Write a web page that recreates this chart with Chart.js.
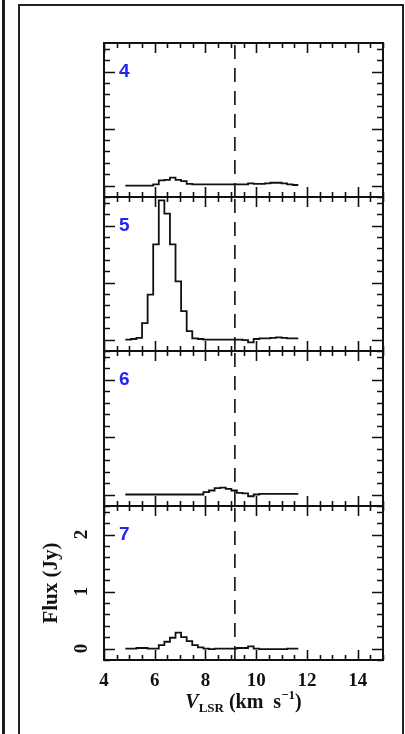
<!DOCTYPE html>
<html>
<head>
<meta charset="utf-8">
<script src="https://cdn.jsdelivr.net/npm/chart.js@4/dist/chart.umd.min.js"></script>
<style>
  html, body { margin: 0; padding: 0; background: #fff; }
  #page { position: relative; width: 405px; height: 734px; overflow: hidden; background: #fff; }
  #page canvas { position: absolute; left: 0; top: 0; }
  .rule { position: absolute; left: 2px; top: 0; width: 3px; height: 734px; background: #1c1c1c; }
  .frame { position: absolute; left: 18px; top: 4px; width: 386px; height: 770px; border: 2px solid #222; box-sizing: border-box; }
</style>
</head>
<body>
<div id="page">
  <div class="rule"></div>
  <div class="frame"></div>
  <canvas id="p4" width="405" height="734"></canvas>
  <canvas id="p5" width="405" height="734"></canvas>
  <canvas id="p6" width="405" height="734"></canvas>
  <canvas id="p7" width="405" height="734"></canvas>
</div>
<script>
// Channel centre velocities (km/s), shared by all epochs
const velocity = [4.95, 5.17, 5.39, 5.61, 5.83, 6.05, 6.27, 6.49, 6.71, 6.93, 7.15,
                  7.37, 7.59, 7.81, 8.03, 8.25, 8.47, 8.69, 8.91, 9.13, 9.35, 9.57,
                  9.79, 10.01, 10.23, 10.45, 10.67, 10.89, 11.11, 11.33, 11.55];

// Flux density (Jy) per channel, one array per epoch
const flux4 = [0.00, 0.00, 0.00, 0.00, 0.00, 0.02, 0.09, 0.10, 0.14, 0.10, 0.08,
               0.03, 0.02, 0.02, 0.02, 0.02, 0.02, 0.02, 0.02, 0.02, 0.02, 0.02,
               0.04, 0.03, 0.03, 0.04, 0.05, 0.05, 0.04, 0.02, 0.01];
const flux5 = [0.00, 0.01, 0.03, 0.29, 0.79, 1.67, 2.44, 2.21, 1.67, 1.02, 0.50,
               0.15, 0.02, 0.01, 0.00, 0.00, 0.00, 0.00, 0.00, 0.00, 0.00, -0.01,
               -0.05, 0.01, 0.02, 0.02, 0.03, 0.04, 0.03, 0.02, 0.02];
const flux6 = [0.00, 0.00, 0.00, 0.00, 0.00, 0.00, 0.00, 0.00, 0.00, 0.00, 0.00,
               0.00, 0.00, 0.00, 0.04, 0.07, 0.11, 0.12, 0.10, 0.07, 0.03, 0.02,
               -0.03, 0.00, 0.01, 0.01, 0.01, 0.01, 0.01, 0.01, 0.01];
const flux7 = [0.00, 0.00, 0.01, 0.01, 0.00, 0.00, 0.06, 0.12, 0.19, 0.28, 0.20,
               0.13, 0.06, 0.02, 0.00, -0.01, 0.00, 0.00, 0.00, 0.00, 0.01, 0.01,
               0.04, 0.00, -0.01, -0.01, -0.01, -0.01, -0.01, 0.00, 0.00];

const panelLabels = ['4', '5', '6', '7'];
const xTickValues = [4, 6, 8, 10, 12, 14];
const yTickValues = [0, 1, 2];
const systemicVelocity = 9.16;

// Axis ranges and tick spacing
const X_MIN = 4, X_MAX = 15, X_MINOR = 0.5, X_MAJOR = 2;
const Y_MIN = -0.2, Y_MAX = 2.5, Y_MINOR = 0.2, Y_MAJOR = 1;

// Vertical placement of each stacked panel (pixels)
const panelEdges = [43, 197, 351, 506, 660];
const PLOT_LEFT = 104, PLOT_RIGHT = 383, W = 405, H = 734;

const SERIF = '"Liberation Serif", "Times New Roman", serif';
const INK = '#111';

// Histogram-style points: extend the first and last channel to their outer edges
function stepPoints(vel, flux) {
  const halfFirst = (vel[1] - vel[0]) / 2;
  const halfLast = (vel[vel.length - 1] - vel[vel.length - 2]) / 2;
  const pts = [{ x: vel[0] - halfFirst, y: flux[0] }];
  vel.forEach((v, i) => pts.push({ x: v, y: flux[i] }));
  pts.push({ x: vel[vel.length - 1] + halfLast, y: flux[flux.length - 1] });
  return pts;
}

function isMultiple(v, step) {
  const r = v / step;
  return Math.abs(r - Math.round(r)) < 1e-6;
}

// Frame, inward ticks on all four sides, dashed systemic-velocity line and epoch label
const panelDecor = {
  id: 'panelDecor',
  afterDatasetsDraw(chart, args, opts) {
    const { ctx, chartArea: a, scales: { x, y } } = chart;
    ctx.save();
    ctx.strokeStyle = INK;
    ctx.lineWidth = 1.6;
    ctx.beginPath();
    for (let v = X_MIN; v <= X_MAX + 1e-6; v += X_MINOR) {
      const px = Math.round(x.getPixelForValue(v)) + 0.5;
      const len = isMultiple(v, X_MAJOR) ? 10 : 5;
      ctx.moveTo(px, a.bottom); ctx.lineTo(px, a.bottom - len);
      ctx.moveTo(px, a.top); ctx.lineTo(px, a.top + len);
    }
    for (let v = Y_MIN; v <= Y_MAX + 1e-6; v += Y_MINOR) {
      const py = Math.round(y.getPixelForValue(v)) + 0.5;
      const len = isMultiple(v, Y_MAJOR) ? 11 : 6;
      ctx.moveTo(a.left, py); ctx.lineTo(a.left + len, py);
      ctx.moveTo(a.right, py); ctx.lineTo(a.right - len, py);
    }
    ctx.stroke();

    // systemic velocity
    ctx.setLineDash([14, 9]);
    ctx.lineWidth = 1.6;
    const sx = x.getPixelForValue(systemicVelocity);
    ctx.beginPath();
    ctx.moveTo(sx, a.top + 2);
    ctx.lineTo(sx, a.bottom);
    ctx.stroke();
    ctx.setLineDash([]);

    // panel frame
    ctx.lineWidth = 2;
    ctx.strokeRect(a.left, a.top, a.right - a.left, a.bottom - a.top);

    // epoch number
    ctx.fillStyle = '#2424ee';
    ctx.font = 'bold 19px "Liberation Sans", Arial, sans-serif';
    ctx.textAlign = 'left';
    ctx.textBaseline = 'alphabetic';
    ctx.fillText(opts.label, a.left + 15, a.top + 34);

    if (opts.bottom) {
      // rotated flux tick labels
      ctx.fillStyle = INK;
      ctx.font = 'bold 19px ' + SERIF;
      ctx.textAlign = 'center';
      ctx.textBaseline = 'middle';
      yTickValues.forEach(v => {
        ctx.save();
        ctx.translate(82, y.getPixelForValue(v));
        ctx.rotate(-Math.PI / 2);
        ctx.fillText(String(v), 0, 0);
        ctx.restore();
      });

      // velocity axis title: V_LSR (km s^-1)
      const parts = [
        { t: 'V', f: 'italic bold 20px ' + SERIF, dy: 0 },
        { t: 'LSR', f: 'bold 13px ' + SERIF, dy: 4 },
        { t: ' (km  s', f: 'bold 20px ' + SERIF, dy: 0 },
        { t: '\u22121', f: 'bold 13px ' + SERIF, dy: -9 },
        { t: ')', f: 'bold 20px ' + SERIF, dy: 0 }
      ];
      let total = 0;
      parts.forEach(p => { ctx.font = p.f; p.w = ctx.measureText(p.t).width; total += p.w; });
      let cx = (a.left + a.right) / 2 - total / 2;
      ctx.textAlign = 'left';
      ctx.textBaseline = 'alphabetic';
      parts.forEach(p => {
        ctx.font = p.f;
        ctx.fillText(p.t, cx, 708 + p.dy);
        cx += p.w;
      });
    }
    ctx.restore();
  }
};

const series = [flux4, flux5, flux6, flux7];

series.forEach((flux, i) => {
  const isBottom = i === series.length - 1;
  const top = panelEdges[i], bottom = panelEdges[i + 1];
  const xAxis = {
    type: 'linear', min: X_MIN, max: X_MAX, display: false
  };
  const yAxis = { type: 'linear', min: Y_MIN, max: Y_MAX, display: false };
  const padding = { left: PLOT_LEFT, right: W - PLOT_RIGHT, top: top, bottom: H - bottom };

  if (isBottom) {
    Object.assign(xAxis, {
      display: true,
      grid: { display: false, drawTicks: false },
      border: { display: false },
      afterBuildTicks: s => { s.ticks = xTickValues.map(v => ({ value: v })); },
      afterFit: s => { s.height = H - bottom; },
      ticks: { color: INK, padding: 10, font: { family: SERIF, size: 19, weight: 'bold' } }
    });
    Object.assign(yAxis, {
      display: true,
      grid: { display: false, drawTicks: false },
      border: { display: false },
      ticks: { display: false },
      afterFit: s => { s.width = PLOT_LEFT - 39; },
      title: {
        display: true, text: 'Flux (Jy)', color: INK,
        padding: { top: 0, bottom: 0 },
        font: { family: SERIF, size: 21, weight: 'bold' }
      }
    });
    padding.left = 39;
    padding.bottom = 0;
  }

  new Chart(document.getElementById('p' + panelLabels[i]), {
    type: 'line',
    data: {
      datasets: [{
        data: stepPoints(velocity, flux),
        stepped: 'middle',
        borderColor: INK,
        borderWidth: 1.8,
        pointRadius: 0,
        fill: false
      }]
    },
    options: {
      responsive: false,
      animation: false,
      devicePixelRatio: 1,
      events: [],
      layout: { padding },
      plugins: {
        legend: { display: false },
        tooltip: { enabled: false },
        panelDecor: { label: panelLabels[i], bottom: isBottom }
      },
      scales: { x: xAxis, y: yAxis }
    },
    plugins: [panelDecor]
  });
});
</script>
</body>
</html>
